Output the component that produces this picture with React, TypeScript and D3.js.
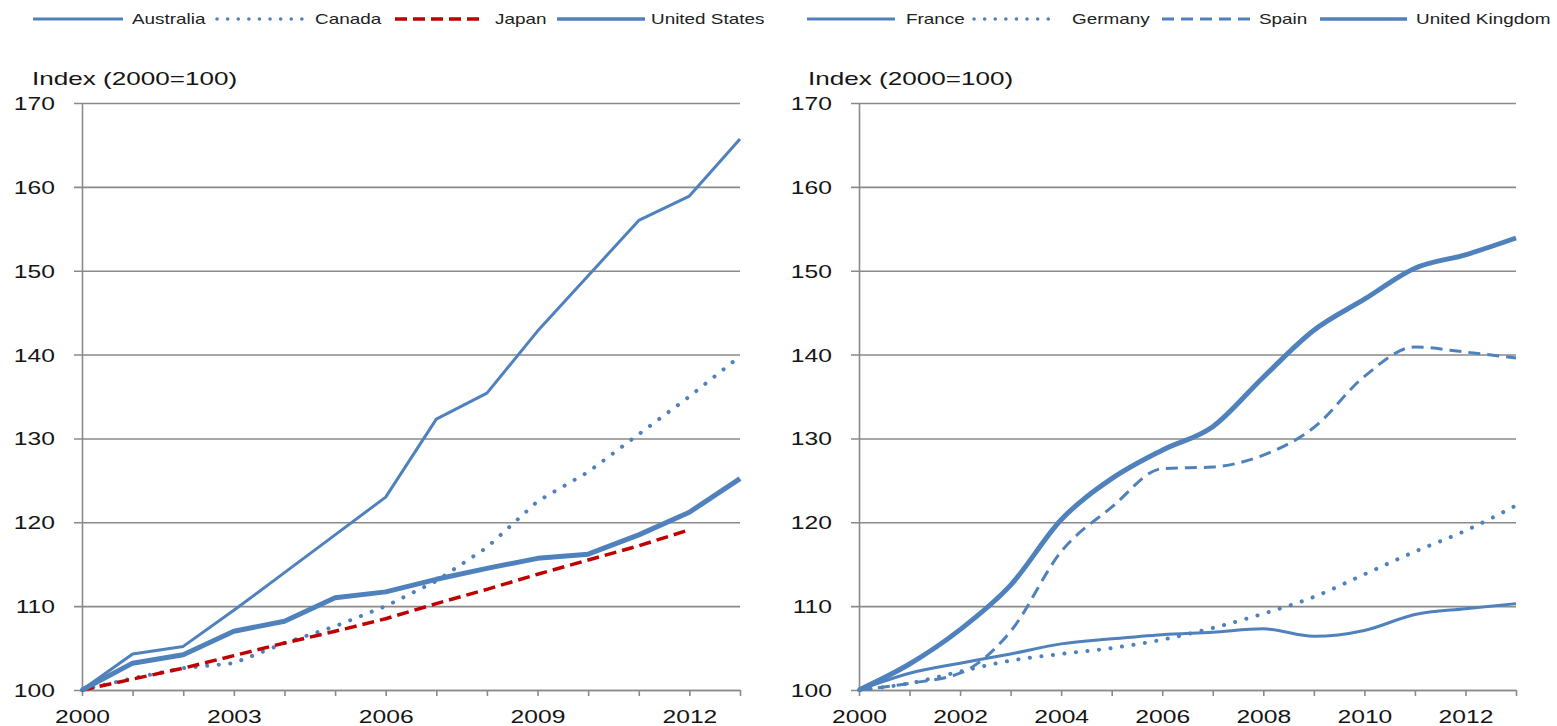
import { useEffect, useRef } from "react";
import * as d3 from "d3";

// years on the x axis
const years = [2000, 2001, 2002, 2003, 2004, 2005, 2006, 2007, 2008, 2009, 2010, 2011, 2012, 2013];
const japanYears = [2000, 2001, 2002, 2003, 2004, 2005, 2006, 2007, 2008, 2009, 2010, 2011, 2012];

// left panel
const australia = [100, 104.3, 105.2, 109.5, 114, 118.5, 123, 132.3, 135.4, 142.8, 149.4, 156, 158.9, 165.7];
const canada = [100, 101.4, 102.6, 103.2, 105.6, 107.6, 110, 113, 117, 122.5, 126, 130.5, 135, 139.8];
const japan = [100, 101.3, 102.6, 104.1, 105.6, 107, 108.5, 110.3, 112, 113.8, 115.5, 117.2, 119.1];
const unitedStates = [100, 103.2, 104.2, 107, 108.2, 111, 111.7, 113.2, 114.5, 115.7, 116.2, 118.5, 121.2, 125.2];

// right panel
const france = [100, 102, 103.2, 104.3, 105.5, 106.1, 106.6, 106.9, 107.3, 106.4, 107.1, 109, 109.7, 110.3];
const germany = [100, 100.8, 102.2, 103.5, 104.3, 105, 106, 107.4, 109.1, 111.1, 113.8, 116.5, 119, 122];
const spain = [100, 100.8, 102, 107, 116.5, 121.8, 126.4, 126.6, 128, 131.3, 137.4, 140.9, 140.3, 139.6];
const unitedKingdom = [100, 103.1, 107.2, 112.5, 120.3, 125.2, 128.6, 131.4, 137.3, 142.9, 146.6, 150.3, 151.9, 153.9];

const yTicks = [100, 110, 120, 130, 140, 150, 160, 170];
const leftXLabels = [2000, 2003, 2006, 2009, 2012];
const rightXLabels = [2000, 2002, 2004, 2006, 2008, 2010, 2012];

const BLUE = "#4f81bd";
const RED = "#c00000";
const GRID = "#8a8a8a";
const TEXT = "#151515";
const FONT = "'Liberation Sans', Arial, sans-serif";
const SX = 1.37;

type Style = { color: string; width: number; dash?: string; cap?: string };
type Series = { name: string; values: number[]; years: number[]; style: Style };

const DOTTED: Style = { color: BLUE, width: 4, dash: "0.1 11.5", cap: "round" };

const leftSeries: Series[] = [
  { name: "Australia", values: australia, years, style: { color: BLUE, width: 3 } },
  { name: "Canada", values: canada, years, style: DOTTED },
  { name: "Japan", values: japan, years: japanYears, style: { color: RED, width: 3.5, dash: "12 6" } },
  { name: "United States", values: unitedStates, years, style: { color: BLUE, width: 5 } },
];

const rightSeries: Series[] = [
  { name: "France", values: france, years, style: { color: BLUE, width: 3 } },
  { name: "Germany", values: germany, years, style: DOTTED },
  { name: "Spain", values: spain, years, style: { color: BLUE, width: 3, dash: "12 7" } },
  { name: "United Kingdom", values: unitedKingdom, years, style: { color: BLUE, width: 5 } },
];

type Panel = {
  x0: number;
  x1: number;
  labelX: number;
  xLabels: number[];
  series: Series[];
  smooth: boolean;
  legend: { line: [number, number]; text: number }[];
};

const panels: Panel[] = [
  {
    x0: 82,
    x1: 740,
    labelX: 32,
    xLabels: leftXLabels,
    series: leftSeries,
    smooth: false,
    legend: [
      { line: [33, 123], text: 132 },
      { line: [217, 303], text: 315 },
      { line: [395, 485], text: 495 },
      { line: [557, 645], text: 651 },
    ],
  },
  {
    x0: 859,
    x1: 1516,
    labelX: 808,
    xLabels: rightXLabels,
    series: rightSeries,
    smooth: true,
    legend: [
      { line: [807, 895], text: 906 },
      { line: [974, 1056], text: 1072 },
      { line: [1162, 1250], text: 1259 },
      { line: [1320, 1407], text: 1416 },
    ],
  },
];

function applyStyle(sel: d3.Selection<SVGPathElement | SVGLineElement, unknown, null, undefined>, s: Style) {
  sel
    .attr("fill", "none")
    .attr("stroke", s.color)
    .attr("stroke-width", s.width)
    .attr("stroke-linejoin", "round")
    .attr("stroke-linecap", s.cap ?? "butt");
  if (s.dash) sel.attr("stroke-dasharray", s.dash);
}

function drawPanel(svg: d3.Selection<SVGSVGElement, unknown, null, undefined>, p: Panel) {
  const x = d3.scaleLinear().domain([2000, 2013]).range([p.x0, p.x1]);
  const y = d3.scaleLinear().domain([100, 170]).range([690, 103]);
  const w = p.x1 - p.x0;

  // y axis + gridlines
  const gy = svg
    .append("g")
    .attr("transform", `translate(${p.x0},0)`)
    .call(d3.axisLeft(y).tickValues(yTicks).tickSizeOuter(0).tickFormat(d3.format("d")));
  gy.select(".domain").attr("stroke", GRID).attr("stroke-width", 1.6);
  gy.selectAll(".tick line").attr("x1", -8).attr("x2", w).attr("stroke", GRID).attr("stroke-width", 1.6);
  gy.selectAll(".tick text")
    .attr("x", -27 / SX)
    .attr("dy", "0.36em")
    .attr("transform", `scale(${SX},1)`)
    .attr("fill", TEXT)
    .style("font-size", "18px")
    .style("font-family", FONT);

  // x axis
  const gx = svg
    .append("g")
    .attr("transform", "translate(0,690)")
    .call(
      d3
        .axisBottom(x)
        .tickValues(years)
        .tickSize(6)
        .tickSizeOuter(0)
        .tickFormat((d) => (p.xLabels.includes(+d) ? String(d) : ""))
    );
  gx.select(".domain").attr("stroke", GRID).attr("stroke-width", 1.6);
  gx.selectAll(".tick line").attr("stroke", GRID).attr("stroke-width", 1.6);
  gx.selectAll(".tick text")
    .attr("y", 33)
    .attr("dy", 0)
    .attr("transform", `scale(${SX},1)`)
    .attr("fill", TEXT)
    .style("font-size", "18px")
    .style("font-family", FONT);

  // axis title
  svg
    .append("text")
    .attr("transform", `translate(${p.labelX},85) scale(1.45,1)`)
    .attr("fill", TEXT)
    .style("font-size", "18px")
    .style("font-family", FONT)
    .text("Index (2000=100)");

  // series
  p.series.forEach((s) => {
    const line = d3
      .line<number>()
      .x((_, i) => x(s.years[i]))
      .y((d) => y(d))
      .curve(p.smooth ? d3.curveMonotoneX : d3.curveLinear);
    const path = svg.append("path").datum(s.values).attr("d", line);
    applyStyle(path as any, s.style);
  });

  // legend
  p.series.forEach((s, i) => {
    const l = p.legend[i];
    const ln = svg.append("line").attr("x1", l.line[0]).attr("x2", l.line[1]).attr("y1", 19).attr("y2", 19);
    applyStyle(ln as any, { ...s.style, width: Math.min(s.style.width, 3.5), dash: s.style.dash === DOTTED.dash ? "0.1 10.5" : s.style.dash });
    svg
      .append("text")
      .attr("transform", `translate(${l.text},24) scale(1.35,1)`)
      .attr("fill", "#222")
      .style("font-size", "14px")
      .style("font-family", FONT)
      .text(s.name);
  });
}

export default function App() {
  const ref = useRef<SVGSVGElement | null>(null);

  useEffect(() => {
    const svg = d3.select(ref.current as SVGSVGElement);
    svg.selectAll("*").remove();
    panels.forEach((p) => drawPanel(svg, p));
  }, []);

  return (
    <svg
      ref={ref}
      width={1557}
      height={726}
      style={{ position: "absolute", left: 0, top: 0, background: "#fff" }}
    />
  );
}
